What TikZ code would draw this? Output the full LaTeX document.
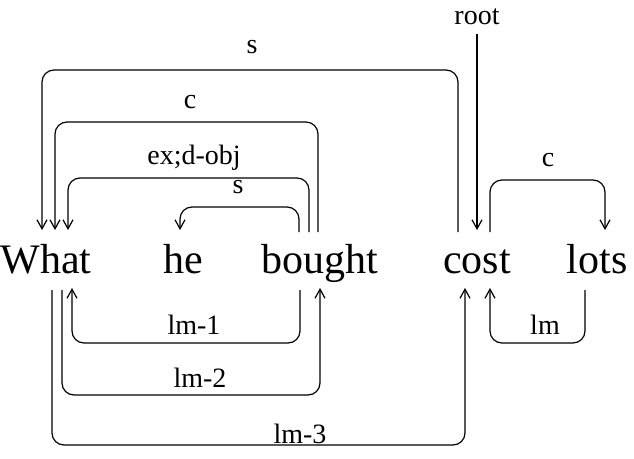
\documentclass[tikz,border=0pt]{standalone}
\usepackage{fontspec}
\setmainfont{Liberation Serif}
\usetikzlibrary{arrows.meta}
\begin{document}
\begin{tikzpicture}[x=1pt,y=-1pt,
  w/.style={anchor=base,font=\fontsize{42}{42}\selectfont,inner sep=0},
  lab/.style={font=\fontsize{28}{28}\selectfont,inner sep=1pt},
  arc/.style={line width=1.2pt,rounded corners=12pt,-{Straight Barb[length=9pt,width=10pt,line width=1.2pt]}}]
\useasboundingbox (0,0) rectangle (634,458);
\node[w] (what) at (46,273) {What};
\node[w] (he) at (183,273) {he};
\node[w] (bought) at (320,273) {bought};
\node[w] (cost) at (477,273) {cost};
\node[w] (lots) at (597,273) {lots};
\coordinate (r) at (477,34);
\node[lab] (lroot) at (477,17) {root};
\draw[arc] (r) -- (477,230);
% top arcs
\draw[arc] (458,232) -- (458,70) -- (42,70) -- (42,230);
\node[lab] (ls) at (252,47) {s};
\draw[arc] (318,232) -- (318,122) -- (55,122) -- (55,230);
\node[lab] (lc) at (190,102) {c};
\draw[arc] (309,232) -- (309,178) -- (68,178) -- (68,230);
\node[lab] (lex) at (194,158) {ex;d-obj};
\draw[arc] (299,232) -- (299,207) -- (180,207) -- (180,230);
\node[lab] (ls2) at (238,187) {s};
\draw[arc] (490,232) -- (490,180) -- (605,180) -- (605,230);
\node[lab] (lc2) at (548,160) {c};
% bottom arcs
\draw[arc] (300,290) -- (300,343) -- (72,343) -- (72,288);
\node[lab] (l1) at (194,325) {lm-1};
\draw[arc] (62,290) -- (62,395) -- (320,395) -- (320,288);
\node[lab] (l2) at (200,378) {lm-2};
\draw[arc] (52,290) -- (52,445) -- (465,445) -- (465,288);
\node[lab] (l3) at (300,434) {lm-3};
\draw[arc] (585,290) -- (585,343) -- (490,343) -- (490,288);
\node[lab] (l4) at (545,325) {lm};
\end{tikzpicture}
\end{document}
